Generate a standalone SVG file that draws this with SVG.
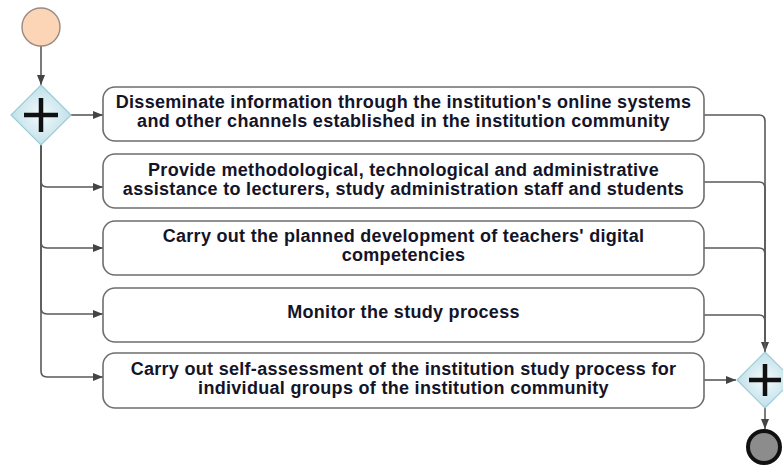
<svg xmlns="http://www.w3.org/2000/svg" width="783" height="469" viewBox="0 0 783 469">
<style>
.box{fill:#fff;stroke:#6e6e6e;stroke-width:1.6}
.t{font-family:"Liberation Sans",Arial,sans-serif;font-weight:bold;font-size:18px;letter-spacing:0.3px;fill:#141428;text-anchor:middle}
.c{fill:none;stroke:#5a5a5a;stroke-width:1.6}
.gw{fill:url(#gg);stroke:#9ccbd6;stroke-width:1.2}
.plus{stroke:#111;stroke-width:4.5;fill:none}
</style>
<defs>
<radialGradient id="gg" cx="50%" cy="50%" r="60%">
<stop offset="0" stop-color="#f4fafc"/>
<stop offset="1" stop-color="#b5dbe5"/>
</radialGradient>
<marker id="ar" markerWidth="10" markerHeight="8" refX="10" refY="4" orient="auto" markerUnits="userSpaceOnUse">
<path d="M0,0 L10,4 L0,8 Z" fill="#444"/>
</marker>
</defs>
<g id="connectors">
<path class="c" d="M41,46 L41,85" marker-end="url(#ar)"/>
<path class="c" d="M71,115 L103,115" marker-end="url(#ar)"/>
<path class="c" d="M41,145 L41,181 Q41,187 47,187 L103,187" marker-end="url(#ar)"/>
<path class="c" d="M41,145 L41,242 Q41,248 47,248 L103,248" marker-end="url(#ar)"/>
<path class="c" d="M41,145 L41,308 Q41,314 47,314 L103,314" marker-end="url(#ar)"/>
<path class="c" d="M41,145 L41,371 Q41,377 47,377 L103,377" marker-end="url(#ar)"/>
<path class="c" d="M704,115 L759,115 Q765,115 765,121 L765,352" marker-end="url(#ar)"/>
<path class="c" d="M704,182 L759,182 Q765,182 765,188 L765,352"/>
<path class="c" d="M704,248 L759,248 Q765,248 765,254 L765,352"/>
<path class="c" d="M704,315 L759,315 Q765,315 765,321 L765,352"/>
<path class="c" d="M704,380 L736,380" marker-end="url(#ar)"/>
<path class="c" d="M765,408 L765,429" marker-end="url(#ar)"/>
</g>
<g id="start"><circle cx="41" cy="27" r="19" fill="#fcd5b6" stroke="#9a8a80" stroke-width="1.4"/></g>
<g id="split">
<path class="gw" d="M41,85 L71,115 L41,145 L11,115 Z"/>
<path class="plus" d="M24,115 H58 M41,98 V132"/>
</g>
<g id="task1">
<rect class="box" x="103" y="87" width="601" height="54" rx="12"/>
<text class="t" x="403.5" y="108">Disseminate information through the institution's online systems</text>
<text class="t" x="403.5" y="127">and other channels established in the institution community</text>
</g>
<g id="task2">
<rect class="box" x="103" y="154" width="601" height="54" rx="12"/>
<text class="t" x="403.5" y="175.5">Provide methodological, technological and administrative</text>
<text class="t" x="403.5" y="194.5">assistance to lecturers, study administration staff and students</text>
</g>
<g id="task3">
<rect class="box" x="103" y="221" width="601" height="54" rx="12"/>
<text class="t" x="403.5" y="241.5">Carry out the planned development of teachers' digital</text>
<text class="t" x="403.5" y="260.5">competencies</text>
</g>
<g id="task4">
<rect class="box" x="103" y="288" width="601" height="54" rx="12"/>
<text class="t" x="403.5" y="317.5">Monitor the study process</text>
</g>
<g id="task5">
<rect class="box" x="103" y="353" width="601" height="55" rx="12"/>
<text class="t" x="403.5" y="375">Carry out self-assessment of the institution study process for</text>
<text class="t" x="403.5" y="394">individual groups of the institution community</text>
</g>
<g id="join">
<path class="gw" d="M765,352 L793,380 L765,408 L737,380 Z"/>
<path class="plus" d="M749,380 H781 M765,364 V396"/>
</g>
<g id="end"><circle cx="764" cy="447" r="16" fill="#8c8c8c" stroke="#111" stroke-width="4"/></g>
</svg>
